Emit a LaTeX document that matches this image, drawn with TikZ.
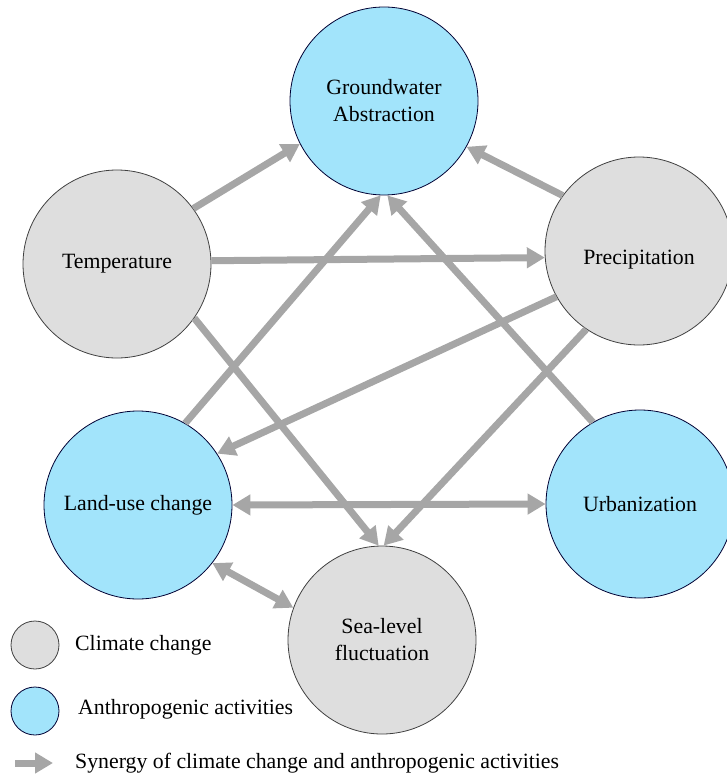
\documentclass[tikz,border=0pt]{standalone}
\usepackage{fontspec}
\setmainfont{Liberation Serif}
\usetikzlibrary{arrows.meta}
\definecolor{climgray}{HTML}{DEDEDE}
\definecolor{anthblue}{HTML}{A2E4FB}
\definecolor{arrgray}{HTML}{A6A6A6}

\begin{document}
\begin{tikzpicture}[x=1pt,y=-1pt,
		every node/.style={font=\fontsize{21.8}{27}\selectfont},
		climate/.style={circle,draw=black!75,line width=0.8pt,fill=climgray,minimum size=188pt,inner sep=0pt,align=center},
		anthro/.style={climate,fill=anthblue,draw=black!80!blue},
		keydot/.style={circle,draw=black!75,line width=0.8pt,minimum size=48pt,inner sep=0pt},
		synergy/.style={draw=arrgray,line width=7pt,-{Triangle[length=18pt,width=20pt]}},
		mutual/.style={synergy,{Triangle[length=18pt,width=20pt]}-{Triangle[length=18pt,width=20pt]}}]
			\useasboundingbox (0,0) rectangle (727,778);
			\coordinate (gwc) at (384,101);
			\coordinate (tempc) at (117,264);
			\coordinate (precc) at (639,251);
			\coordinate (landc) at (138,505);
			\coordinate (urbc) at (640,504);
			\coordinate (seac) at (382,640);
			\node [anthro] (gw) at (gwc) {Groundwater\\Abstraction};
			\node [climate] (temp) at (tempc) {Temperature};
			\node [climate] (prec) at (precc) {};
			\node (prectxt) at ([yshift=-9pt]prec.center) {Precipitation};
			\node [anthro] (land) at (landc) {Land-use change};
			\node [anthro] (urb) at (urbc) {Urbanization};
			\node [climate] (sea) at (seac) {Sea-level\\fluctuation};
			\foreach \From/\To in {temp.36/gw.207, prec.144/gw.331, temp.2/prec.184,
				land.60/gw.268, urb.120/gw.272, prec.209/land.33,
				prec.236/sea.89, temp.325/sea.92}
				\draw [synergy] (\From) -- (\To);
			\draw [mutual] (land.east) -- (urb.west);
			\draw [mutual] (land.322) -- (sea.160);
			% legend
			\node [keydot,fill=climgray] (k1) at (35,645) {};
			\node [keydot,fill=anthblue,draw=black!80!blue] (k2) at (35,711) {};
			\coordinate (k3) at (15,763);
			\coordinate (k4) at (53,763);
			\draw [synergy] (k3) -- (k4);
			\node [anchor=west,inner sep=0pt] (t1) at (75,645) {Climate change};
			\node [anchor=west,inner sep=0pt] (t2) at (78,709) {Anthropogenic activities};
			\node [anchor=west,inner sep=0pt] (t3) at (75,763) {Synergy of climate change and anthropogenic activities};
		\end{tikzpicture}
\end{document}
